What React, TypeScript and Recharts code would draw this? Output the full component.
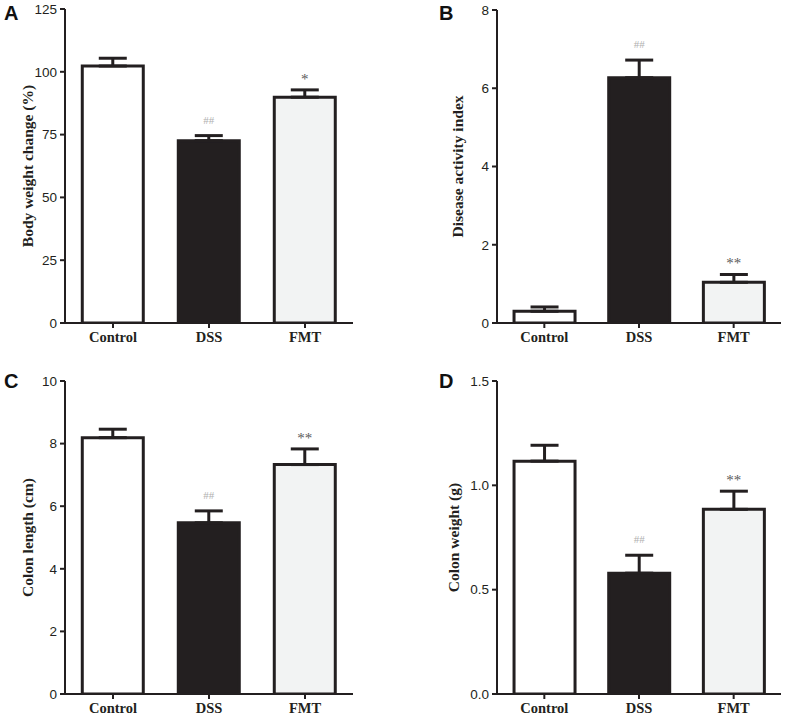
import React from 'react'
import { BarChart, Bar, XAxis, YAxis, ErrorBar, LabelList, Cell } from 'recharts'

const groups = ['Control', 'DSS', 'FMT']
const barColors = ['#ffffff', '#231f20', '#f2f3f3']

const bodyWeight = [102.3, 72.6, 89.9]
const bodyWeightErr = [3.1, 2.0, 2.9]
const bodyWeightMarks = ['', '##', '*']
const bodyWeightTicks = [0, 25, 50, 75, 100, 125]

const diseaseIndex = [0.3, 6.27, 1.04]
const diseaseIndexErr = [0.11, 0.45, 0.2]
const diseaseIndexMarks = ['', '##', '**']
const diseaseIndexTicks = [0, 2, 4, 6, 8]

const colonLength = [8.19, 5.47, 7.33]
const colonLengthErr = [0.27, 0.38, 0.5]
const colonLengthMarks = ['', '##', '**']
const colonLengthTicks = [0, 2, 4, 6, 8, 10]

const colonWeight = [1.116, 0.579, 0.885]
const colonWeightErr = [0.076, 0.086, 0.087]
const colonWeightMarks = ['', '##', '**']
const colonWeightTicks = [0, 0.5, 1.0, 1.5]

const ink = '#231f20'

interface PanelProps {
  letter: string
  yLabel: string
  values: number[]
  errors: number[]
  marks: string[]
  ticks: number[]
  decimals: number
  left: number
  top: number
  width: number
  height: number
  axisX: number
  plotTop: number
  plotBottom: number
  plotRight: number
  labelX: number
}

function Panel(p: PanelProps) {
  const data = groups.map((g, i) => ({
    name: g,
    value: p.values[i],
    err: [0, p.errors[i]],
    mark: p.marks[i],
  }))

  // significance marks sit just above the error cap
  const renderMark = (props: any) => {
    const { x, y, width, height, index } = props
    const mark = p.marks[index]
    if (!mark) return null
    const perUnit = height / p.values[index]
    const capY = y - p.errors[index] * perUnit
    const isHash = mark.startsWith('#')
    return (
      <text
        x={x + width / 2}
        y={isHash ? capY - 12 : capY - 6}
        textAnchor="middle"
        fontFamily="'Liberation Serif', serif"
        fontSize={isHash ? 11 : 15}
        fill={isHash ? '#b0b0b0' : '#5a5a5a'}
      >
        {mark}
      </text>
    )
  }

  const xAxisHeight = 20
  const margin = {
    top: p.plotTop,
    right: p.width - p.plotRight,
    bottom: p.height - p.plotBottom - xAxisHeight,
    left: 0,
  }

  return (
    <div style={{ position: 'absolute', left: p.left, top: p.top, width: p.width, height: p.height }}>
      <BarChart width={p.width} height={p.height} data={data} margin={margin} barCategoryGap="18%">
        <XAxis
          dataKey="name"
          height={xAxisHeight}
          axisLine={{ stroke: ink, strokeWidth: 2 }}
          tickLine={{ stroke: ink, strokeWidth: 2 }}
          tickSize={5}
          tickMargin={4}
          tick={{ fill: ink, fontSize: 14.5, fontWeight: 'bold', fontFamily: "'Liberation Serif', serif" }}
        />
        <YAxis
          width={p.axisX}
          domain={[p.ticks[0], p.ticks[p.ticks.length - 1]]}
          ticks={p.ticks}
          interval={0}
          allowDataOverflow
          axisLine={{ stroke: ink, strokeWidth: 2 }}
          tickLine={{ stroke: ink, strokeWidth: 2 }}
          tickSize={5}
          tickMargin={3}
          tickFormatter={(v: number) => v.toFixed(p.decimals)}
          tick={{ fill: ink, fontSize: 13.5, fontFamily: "'Liberation Sans', Arial, sans-serif" }}
          label={{
            value: p.yLabel,
            angle: -90,
            position: 'insideLeft',
            offset: p.labelX,
            style: {
              textAnchor: 'middle',
              fill: ink,
              fontSize: 15.5,
              fontWeight: 'bold',
              fontFamily: "'Liberation Serif', serif",
            },
          }}
        />
        <Bar dataKey="value" stroke={ink} strokeWidth={3} isAnimationActive={false}>
          {data.map((d, i) => (
            <Cell key={d.name} fill={barColors[i]} />
          ))}
          <ErrorBar dataKey="err" width={14} stroke={ink} strokeWidth={3} direction="y" />
          <LabelList dataKey="mark" content={renderMark} />
        </Bar>
      </BarChart>
      <div
        style={{
          position: 'absolute',
          left: p.letter === 'A' || p.letter === 'C' ? 4 : 49,
          top: p.letter === 'A' || p.letter === 'B' ? 2 : 20,
          fontFamily: "'Liberation Sans', Arial, sans-serif",
          fontWeight: 'bold',
          fontSize: 20,
          color: '#111',
        }}
      >
        {p.letter}
      </div>
    </div>
  )
}

export default function App() {
  return (
    <div style={{ position: 'absolute', left: 0, top: 0, width: 787, height: 717, background: '#fff' }}>
      <Panel
        letter="A"
        yLabel="Body weight change (%)"
        values={bodyWeight}
        errors={bodyWeightErr}
        marks={bodyWeightMarks}
        ticks={bodyWeightTicks}
        decimals={0}
        left={0}
        top={0}
        width={390}
        height={350}
        axisX={65}
        plotTop={9}
        plotBottom={323}
        plotRight={353}
        labelX={27}
      />
      <Panel
        letter="B"
        yLabel="Disease activity index"
        values={diseaseIndex}
        errors={diseaseIndexErr}
        marks={diseaseIndexMarks}
        ticks={diseaseIndexTicks}
        decimals={0}
        left={390}
        top={0}
        width={397}
        height={350}
        axisX={107}
        plotTop={10}
        plotBottom={323}
        plotRight={391}
        labelX={67}
      />
      <Panel
        letter="C"
        yLabel="Colon length (cm)"
        values={colonLength}
        errors={colonLengthErr}
        marks={colonLengthMarks}
        ticks={colonLengthTicks}
        decimals={0}
        left={0}
        top={350}
        width={390}
        height={367}
        axisX={65}
        plotTop={31}
        plotBottom={344}
        plotRight={353}
        labelX={27}
      />
      <Panel
        letter="D"
        yLabel="Colon weight (g)"
        values={colonWeight}
        errors={colonWeightErr}
        marks={colonWeightMarks}
        ticks={colonWeightTicks}
        decimals={1}
        left={390}
        top={350}
        width={397}
        height={367}
        axisX={107}
        plotTop={31}
        plotBottom={344}
        plotRight={391}
        labelX={63}
      />
    </div>
  )
}
